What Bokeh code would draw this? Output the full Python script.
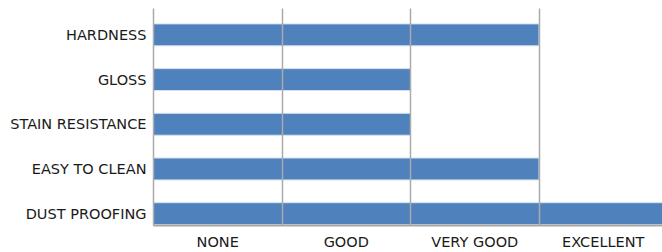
from bokeh.plotting import figure
from bokeh.models import FixedTicker, Range1d
from bokeh.embed import file_html
from bokeh.resources import INLINE

categories = ["HARDNESS", "GLOSS", "STAIN RESISTANCE", "EASY TO CLEAN", "DUST PROOFING"]
scores = [3, 2, 2, 3, 4]
rating_labels = ["NONE", "GOOD", "VERY GOOD", "EXCELLENT"]

positions = list(range(len(categories) - 1, -1, -1))
label_ticks = [i + 0.5 for i in range(len(rating_labels))]
grid_ticks = list(range(len(rating_labels) + 1))

FONT = "DejaVu Sans"
TEXT = "#1a1a1a"
GRID = "#ABABAB"

p = figure(width=662, height=252,
           x_range=Range1d(0, 3.961), y_range=Range1d(-0.265, 4.59),
           output_backend="svg", toolbar_location=None,
           min_border_left=153, min_border_right=0,
           min_border_top=8, min_border_bottom=24)

p.hbar(y=positions, right=scores, left=0, height=0.49,
       fill_color="#4F81BD", line_color="#D4E0EE", line_width=1)

p.outline_line_color = None
p.background_fill_color = "white"
p.border_fill_color = "white"

p.xgrid.ticker = FixedTicker(ticks=grid_ticks)
p.xgrid.grid_line_color = GRID
p.xgrid.grid_line_width = 1.5
p.xgrid.level = "overlay"
p.ygrid.grid_line_color = None

xa = p.xaxis[0]
xa.ticker = FixedTicker(ticks=label_ticks)
xa.major_label_overrides = {t: lab for t, lab in zip(label_ticks, rating_labels)}
xa.axis_line_color = "#A6A6A6"
xa.axis_line_width = 2
xa.major_tick_line_color = None
xa.minor_tick_line_color = None
xa.major_tick_out = 0
xa.major_tick_in = 0
xa.major_label_standoff = 8
xa.major_label_text_font = FONT
xa.major_label_text_font_size = "14.5px"
xa.major_label_text_color = TEXT

ya = p.yaxis[0]
ya.ticker = FixedTicker(ticks=positions)
ya.major_label_overrides = {pos: c for pos, c in zip(positions, categories)}
ya.axis_line_color = GRID
ya.axis_line_width = 1.5
ya.major_tick_line_color = None
ya.minor_tick_line_color = None
ya.major_tick_out = 0
ya.major_tick_in = 0
ya.major_label_standoff = 7
ya.major_label_text_font = FONT
ya.major_label_text_font_size = "14.5px"
ya.major_label_text_color = TEXT

open("out.html", "w").write(file_html(p, INLINE))
